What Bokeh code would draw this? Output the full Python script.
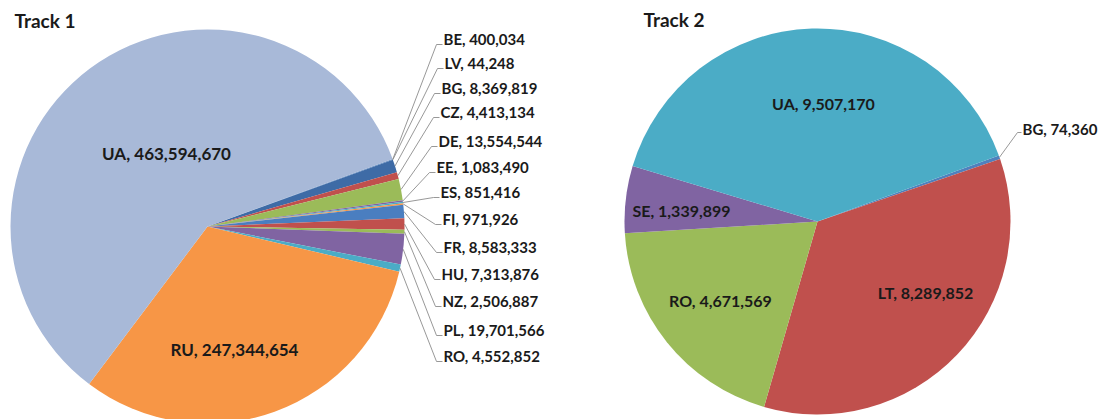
import math
from bokeh.plotting import figure
from bokeh.models import Range1d, ColumnDataSource
from bokeh.core.properties import value
from bokeh.embed import file_html
from bokeh.resources import INLINE

# ---------------- data ----------------
t1_labels = ["BE", "LV", "BG", "CZ", "DE", "EE", "ES", "FI", "FR", "HU", "NZ", "PL", "RO", "RU", "UA"]
t1_values = [400034, 44248, 8369819, 4413134, 13554544, 1083490, 851416, 971926,
             8583333, 7313876, 2506887, 19701566, 4552852, 247344654, 463594670]
t1_colors = ["#4F81BD", "#C0504D", "#3E6BA6", "#C0504D", "#9BBB59", "#8064A2", "#4BACC6", "#F79646",
             "#4A7EC0", "#C0504D", "#9BBB59", "#8064A2", "#4BACC6", "#F79646", "#A8B9D8"]

t2_labels = ["BG", "LT", "RO", "SE", "UA"]
t2_values = [74360, 8289852, 4671569, 1339899, 9507170]
t2_colors = ["#4F81BD", "#C0504D", "#9BBB59", "#8064A2", "#4BACC6"]

# ---------------- layout (pixel positions) ----------------
FIRST_ANGLE = 70.0  # degrees clockwise from 12 o'clock
c1 = (207, 226); r1 = 197
c2 = (817, 221); r2 = 193

# external label anchors for track 1 (text left x, centre y) for the first 13 slices
t1_ext_x = [443, 444, 441, 440, 438, 436, 440, 442, 443, 441, 442, 443, 443]
t1_ext_y = [38, 62, 87, 111, 140, 166, 191, 218, 246, 273, 300, 329, 355]
# internal labels (centre) for RU and UA
t1_int_pos = {"RU": (234, 349), "UA": (166, 153)}

t2_int_pos = {"LT": (925, 292), "RO": (720, 300), "SE": (681, 210), "UA": (823, 103)}
t2_ext_pos = {"BG": (1022, 128)}

FONT = value("Lato")
TXT = "#1a1a1a"
W, H = 1108, 419

p = figure(width=W, height=H, x_range=Range1d(0, W), y_range=Range1d(-H, 0),
           x_axis_type=None, y_axis_type=None, toolbar_location=None,
           output_backend="svg", min_border=0)
p.outline_line_color = None
p.xgrid.visible = False
p.ygrid.visible = False
p.background_fill_color = "white"


def draw_pie(center, r, labels, vals, colors):
    total = float(sum(vals))
    cw = FIRST_ANGLE
    starts, ends, mids = [], [], []
    for v in vals:
        span = v / total * 360.0
        a0, a1 = cw, cw + span
        # convert clockwise-from-top to math angles (CCW from +x)
        starts.append(math.radians(90 - a1))
        ends.append(math.radians(90 - a0))
        mids.append(math.radians(90 - (a0 + a1) / 2))
        cw = a1
    src = ColumnDataSource(dict(x=[center[0]] * len(vals), y=[-center[1]] * len(vals),
                                s=starts, e=ends, c=colors))
    p.wedge(x="x", y="y", radius=r, start_angle="s", end_angle="e",
            fill_color="c", line_color=None, source=src)
    return mids


def fmt(lab, v):
    return f"{lab}, {v:,}"


# ---------- Track 1 ----------
mids1 = draw_pie(c1, r1, t1_labels, t1_values, t1_colors)
lx, ly, lt = [], [], []
for i, lab in enumerate(t1_labels[:13]):
    m = mids1[i]
    ex = c1[0] + r1 * math.cos(m)
    ey = c1[1] - r1 * math.sin(m)
    tx, ty = t1_ext_x[i], t1_ext_y[i]
    p.line([ex, tx - 7, tx - 1], [-ey, -(ty + 6), -(ty + 6)], line_color="#8c8c8c", line_width=0.9)
    lx.append(tx); ly.append(-ty); lt.append(fmt(lab, t1_values[i]))
p.text(x=lx, y=ly, text=lt, text_font=FONT, text_font_style="bold", text_font_size="15px",
       text_color=TXT, text_align="left", text_baseline="middle")

ix, iy, it = [], [], []
for lab, (x, y) in t1_int_pos.items():
    ix.append(x); iy.append(-y); it.append(fmt(lab, t1_values[t1_labels.index(lab)]))
p.text(x=ix, y=iy, text=it, text_font=FONT, text_font_style="bold", text_font_size="17px",
       text_color=TXT, text_align="center", text_baseline="middle")

# ---------- Track 2 ----------
mids2 = draw_pie(c2, r2, t2_labels, t2_values, t2_colors)
ix, iy, it = [], [], []
for lab, (x, y) in t2_int_pos.items():
    ix.append(x); iy.append(-y); it.append(fmt(lab, t2_values[t2_labels.index(lab)]))
p.text(x=ix, y=iy, text=it, text_font=FONT, text_font_style="bold", text_font_size="16px",
       text_color=TXT, text_align="center", text_baseline="middle")

for lab, (tx, ty) in t2_ext_pos.items():
    i = t2_labels.index(lab)
    m = mids2[i]
    ex = c2[0] + r2 * math.cos(m)
    ey = c2[1] - r2 * math.sin(m)
    p.line([ex, tx - 5, tx - 1], [-ey, -(ty + 4), -(ty + 4)], line_color="#8c8c8c", line_width=0.9)
    p.text(x=[tx], y=[-ty], text=[fmt(lab, t2_values[i])], text_font=FONT, text_font_style="bold",
           text_font_size="15px", text_color=TXT, text_align="left", text_baseline="middle")

# ---------- titles ----------
p.text(x=[14, 643], y=[-20, -19], text=["Track 1", "Track 2"], text_font=FONT,
       text_font_style="bold", text_font_size="19px", text_color=TXT,
       text_align="left", text_baseline="middle")

open("out.html", "w").write(file_html(p, INLINE))
